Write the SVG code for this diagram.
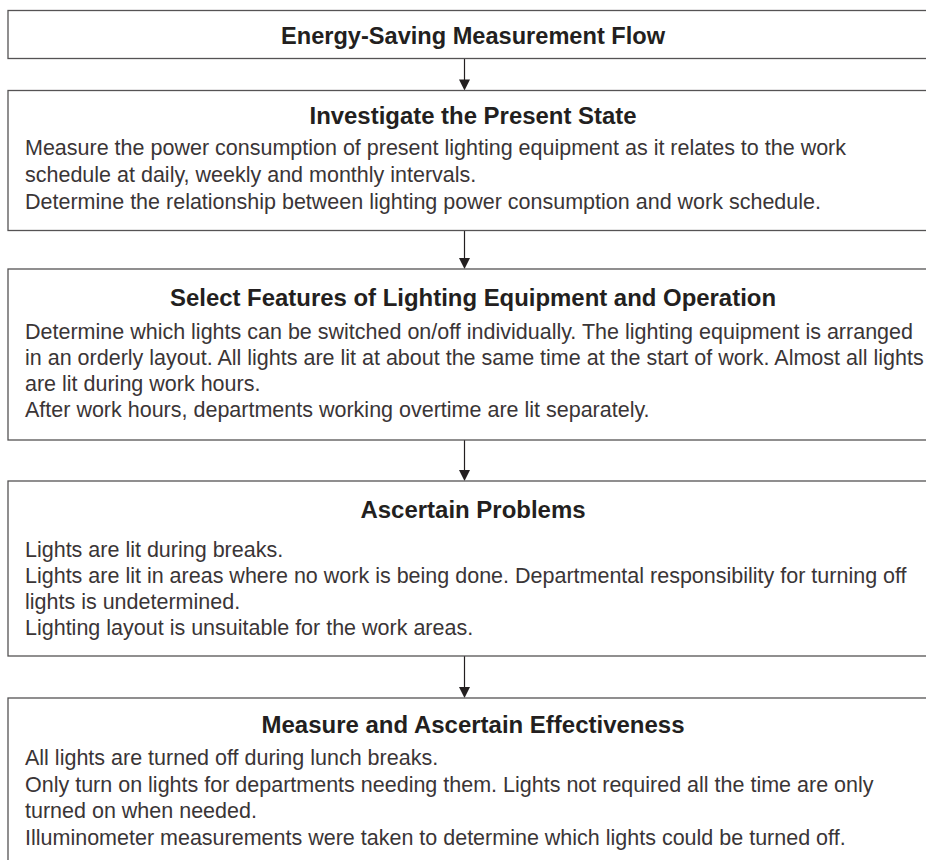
<svg xmlns="http://www.w3.org/2000/svg" width="926" height="860" viewBox="0 0 926 860">
<style>
.box{fill:#ffffff;stroke:#555354;stroke-width:1.3}
.title{font-family:"Liberation Sans",Arial,sans-serif;font-weight:bold;font-size:23px;fill:#231f20;text-anchor:middle}
.body{font-family:"Liberation Sans",Arial,sans-serif;font-size:21.5px;fill:#3a3536}
.conn{stroke:#231f20;stroke-width:1.2;fill:none}
.head{fill:#231f20}
</style>
<rect width="926" height="860" fill="#ffffff"/>
<g id="connectors">
<line class="conn" x1="464.5" y1="58.5" x2="464.5" y2="80"/>
<polygon class="head" points="459,79.5 470,79.5 464.5,90.5"/>
<line class="conn" x1="464.5" y1="230.5" x2="464.5" y2="258"/>
<polygon class="head" points="459,258 470,258 464.5,269"/>
<line class="conn" x1="464.5" y1="440" x2="464.5" y2="470"/>
<polygon class="head" points="459,470 470,470 464.5,481"/>
<line class="conn" x1="464.5" y1="656" x2="464.5" y2="687"/>
<polygon class="head" points="459,687 470,687 464.5,698"/>
</g>
<g id="node-flow">
<rect class="box" x="8" y="10.5" width="940" height="48"/>
<text class="title" x="473" y="43.5" textLength="384" lengthAdjust="spacingAndGlyphs">Energy-Saving Measurement Flow</text>
</g>
<g id="node-investigate">
<rect class="box" x="8" y="90.5" width="940" height="140"/>
<text class="title" x="473" y="123.5" textLength="327" lengthAdjust="spacingAndGlyphs">Investigate the Present State</text>
<text class="body" x="25" y="155">Measure the power consumption of present lighting equipment as it relates to the work</text>
<text class="body" x="25" y="182">schedule at daily, weekly and monthly intervals.</text>
<text class="body" x="25" y="208.5">Determine the relationship between lighting power consumption and work schedule.</text>
</g>
<g id="node-select">
<rect class="box" x="8" y="269" width="940" height="171"/>
<text class="title" x="473" y="305.5" textLength="606" lengthAdjust="spacingAndGlyphs">Select Features of Lighting Equipment and Operation</text>
<text class="body" x="25" y="338.5">Determine which lights can be switched on/off individually. The lighting equipment is arranged</text>
<text class="body" x="25" y="365">in an orderly layout. All lights are lit at about the same time at the start of work. Almost all lights</text>
<text class="body" x="25" y="391">are lit during work hours.</text>
<text class="body" x="25" y="417">After work hours, departments working overtime are lit separately.</text>
</g>
<g id="node-problems">
<rect class="box" x="8" y="481" width="940" height="175"/>
<text class="title" x="473" y="517.5" textLength="225" lengthAdjust="spacingAndGlyphs">Ascertain Problems</text>
<text class="body" x="25" y="556.5">Lights are lit during breaks.</text>
<text class="body" x="25" y="582.5">Lights are lit in areas where no work is being done. Departmental responsibility for turning off</text>
<text class="body" x="25" y="608.5">lights is undetermined.</text>
<text class="body" x="25" y="634.5">Lighting layout is unsuitable for the work areas.</text>
</g>
<g id="node-effectiveness">
<rect class="box" x="8" y="698" width="940" height="200"/>
<text class="title" x="473" y="732.5" textLength="423" lengthAdjust="spacingAndGlyphs">Measure and Ascertain Effectiveness</text>
<text class="body" x="25" y="765">All lights are turned off during lunch breaks.</text>
<text class="body" x="25" y="792">Only turn on lights for departments needing them. Lights not required all the time are only</text>
<text class="body" x="25" y="818">turned on when needed.</text>
<text class="body" x="25" y="845">Illuminometer measurements were taken to determine which lights could be turned off.</text>
</g>
</svg>
